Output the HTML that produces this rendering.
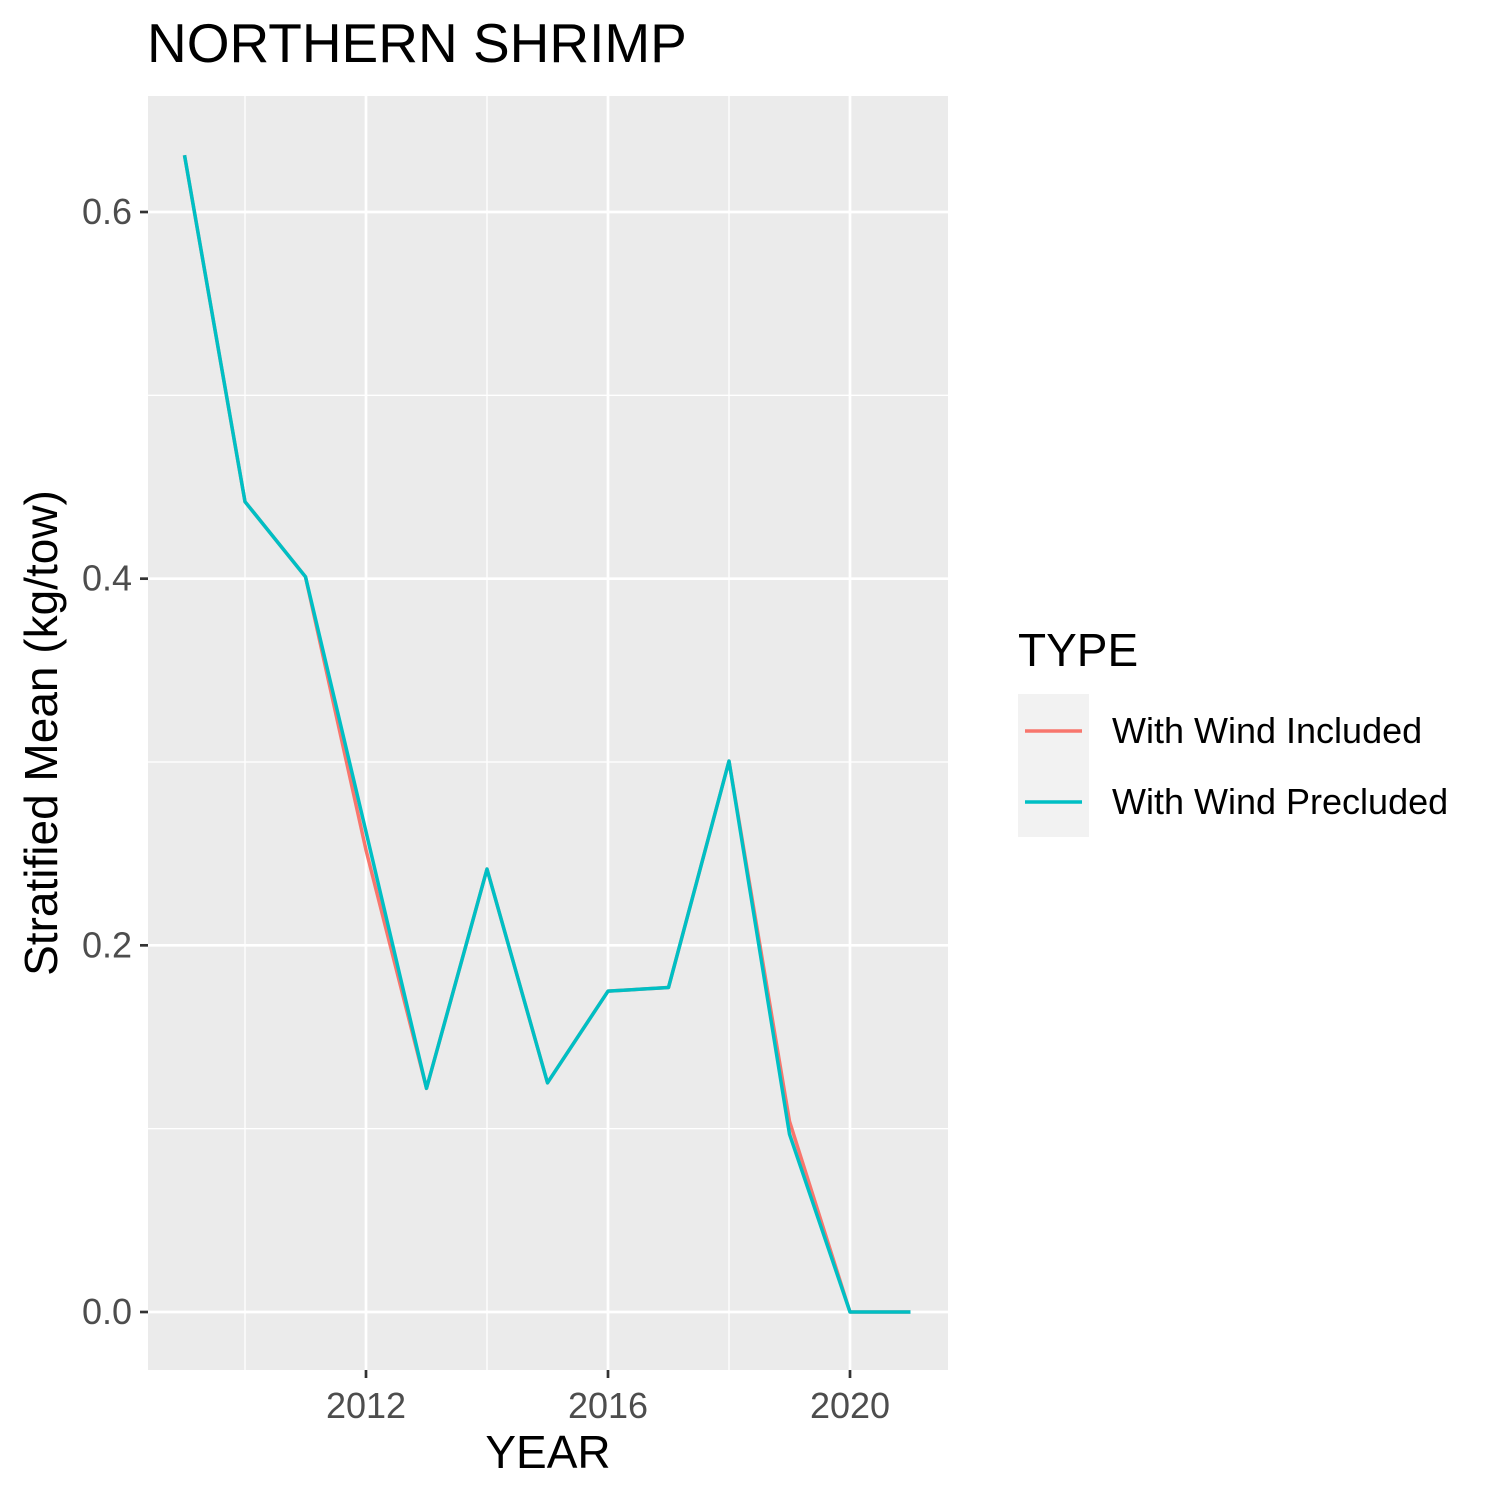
<!DOCTYPE html>
<html><head><meta charset="utf-8"><style>body{margin:0;background:#fff}svg{display:block;font-family:"Liberation Sans",Arial,sans-serif}</style></head>
<body>
<svg id="chart" width="1500" height="1500" viewBox="0 0 1500 1500" xmlns="http://www.w3.org/2000/svg">
<rect width="1500" height="1500" fill="#fff"/>
<text x="147" y="62" font-size="55">NORTHERN SHRIMP</text>
<rect x="148" y="96" width="800" height="1274" fill="#ebebeb"/>
<g id="grid"></g><g id="series"></g><g id="axes"></g>
<text x="548" y="1468" font-size="46" text-anchor="middle">YEAR</text>
<text transform="translate(57,733) rotate(-90)" font-size="46" text-anchor="middle">Stratified Mean (kg/tow)</text>
<g>
<text x="1018" y="666" font-size="46">TYPE</text>
<rect x="1018" y="694" width="71" height="143" fill="#f2f2f2"/>
<line x1="1025" y1="731" x2="1082" y2="731" stroke="#F8766D" stroke-width="3.5"/>
<line x1="1025" y1="802" x2="1082" y2="802" stroke="#00BFC4" stroke-width="3.5"/>
<text x="1112" y="743" font-size="36">With Wind Included</text>
<text x="1112" y="814" font-size="36">With Wind Precluded</text>
</g>
</svg>
<script>
const years=[2009,2010,2011,2012,2013,2014,2015,2016,2017,2018,2019,2020,2021];
const included=[0.631,0.442,0.401,0.252,0.122,0.2416,0.125,0.175,0.177,0.3005,0.104,0,0];
const precluded=[0.631,0.442,0.401,0.262,0.122,0.2416,0.125,0.175,0.177,0.3005,0.097,0,0];
const yTicks=[0,0.2,0.4,0.6];
const yTickLabels=["0.0","0.2","0.4","0.6"];
const yMinor=[0.1,0.3,0.5];
const xTicks=[2012,2016,2020];
const xMinor=[2010,2014,2018];
const NS="http://www.w3.org/2000/svg";
const X=v=>366+(v-2012)*60.5;
const Y=v=>1312-v*1833.33;
function mk(tag,attrs,parent,txt){const e=document.createElementNS(NS,tag);for(const k in attrs)e.setAttribute(k,attrs[k]);if(txt!==undefined)e.textContent=txt;parent.appendChild(e);return e;}
const grid=document.getElementById('grid'),axes=document.getElementById('axes'),ser=document.getElementById('series');
yMinor.forEach(v=>{const l=mk('line',{x1:148,x2:948,y1:Y(v),y2:Y(v),stroke:'#fff','stroke-width':1.3},grid);

});
xMinor.forEach(v=>{const l=mk('line',{x1:X(v),x2:X(v),y1:96,y2:1370,stroke:'#fff','stroke-width':1.3},grid);

});
yTicks.forEach((v,i)=>{const l=mk('line',{x1:148,x2:948,y1:Y(v),y2:Y(v),stroke:'#fff','stroke-width':2.7},grid);


const t=mk('line',{x1:140,x2:148,y1:Y(v),y2:Y(v),stroke:'#333','stroke-width':2.7},axes);


const tx=mk('text',{x:132,y:Y(v)+12,'font-size':36,fill:'#4d4d4d','text-anchor':'end'},axes,yTickLabels[i]);

});
xTicks.forEach(v=>{const l=mk('line',{x1:X(v),x2:X(v),y1:96,y2:1370,stroke:'#fff','stroke-width':2.7},grid);


const t=mk('line',{x1:X(v),x2:X(v),y1:1370,y2:1378,stroke:'#333','stroke-width':2.7},axes);


const tx=mk('text',{x:X(v),y:1418,'font-size':36,fill:'#4d4d4d','text-anchor':'middle'},axes,String(v));

});
function line(vals,color,name){const p=mk('polyline',{points:years.map((y,i)=>X(y)+','+Y(vals[i])).join(' '),fill:'none',stroke:color,'stroke-width':3.5,'stroke-linejoin':'round'},ser);

}
line(included,'#F8766D','series-with-wind-included');
line(precluded,'#00BFC4','series-with-wind-precluded');
</script>
</body></html>
